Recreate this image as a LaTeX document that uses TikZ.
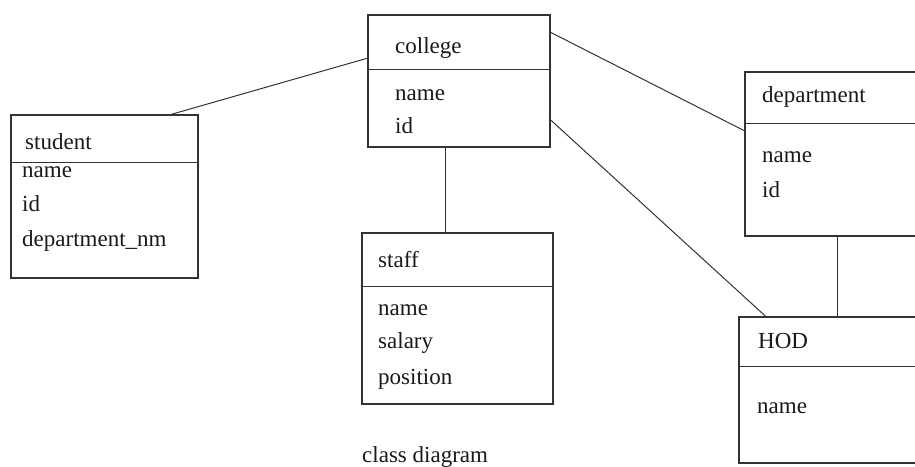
\documentclass[tikz,border=0pt]{standalone}
\usepackage{fontspec}
\setmainfont{Liberation Serif}
\begin{document}
\begin{tikzpicture}[x=1pt,y=-1pt,
  classbox/.style={draw=black!80,line width=1.1pt,rectangle,inner sep=0pt},
  attr/.style={anchor=base west,inner sep=0pt,font=\fontsize{23}{27}\selectfont,text=black!90},
  link/.style={draw=black!80,line width=1pt}]
  \useasboundingbox (0,0) rectangle (915,466);
  % class boxes
  \node[classbox,minimum width=187pt,minimum height=163pt] (student) at (104.5,196.5) {};
  \node[classbox,minimum width=182pt,minimum height=132pt] (college) at (459,81) {};
  \node[classbox,minimum width=191pt,minimum height=171pt] (staff) at (457.5,318.5) {};
  \node[classbox,minimum width=185pt,minimum height=164pt] (department) at (837.5,154) {};
  \node[classbox,minimum width=186pt,minimum height=146pt] (hod) at (832,390) {};
  % dividers
  \draw[link] (student.west |- 0,162) -- (student.east |- 0,162);
  \draw[link] (college.west |- 0,69) -- (college.east |- 0,69);
  \draw[link] (staff.west |- 0,286) -- (staff.east |- 0,286);
  \draw[link] (department.west |- 0,123) -- (department.east |- 0,123);
  \draw[link] (hod.west |- 0,366) -- (hod.east |- 0,366);
  % texts
  \node[attr] (student-title) at (25,149) {student};
  \node[attr] (student-name) at (22,177) {name};
  \node[attr] (student-id) at (22,211) {id};
  \node[attr] (student-dept) at (22,246) {department\_nm};
  \node[attr] (college-title) at (395,53) {college};
  \node[attr] (college-name) at (395,100) {name};
  \node[attr] (college-id) at (395,133) {id};
  \node[attr] (staff-title) at (378,267) {staff};
  \node[attr] (staff-name) at (378,315) {name};
  \node[attr] (staff-salary) at (378,348) {salary};
  \node[attr] (staff-position) at (378,384) {position};
  \node[attr] (department-title) at (762,102) {department};
  \node[attr] (department-name) at (762,162) {name};
  \node[attr] (department-id) at (762,197) {id};
  \node[attr] (hod-title) at (758,348) {HOD};
  \node[attr] (hod-name) at (757,413) {name};
  \node[attr] (caption) at (362,462) {class diagram};
  % associations
  \draw[link] (student.51) -- (college.166);
  \draw[link] (college.28) -- (department.166);
  \draw[link] (college.-23) -- (hod.132);
  \draw[link] ([xshift=-14pt]college.south) -- ([xshift=-14pt]college.south |- staff.north);
  \draw[link] (department.south) -- (department.south |- hod.north);
\end{tikzpicture}
\end{document}
